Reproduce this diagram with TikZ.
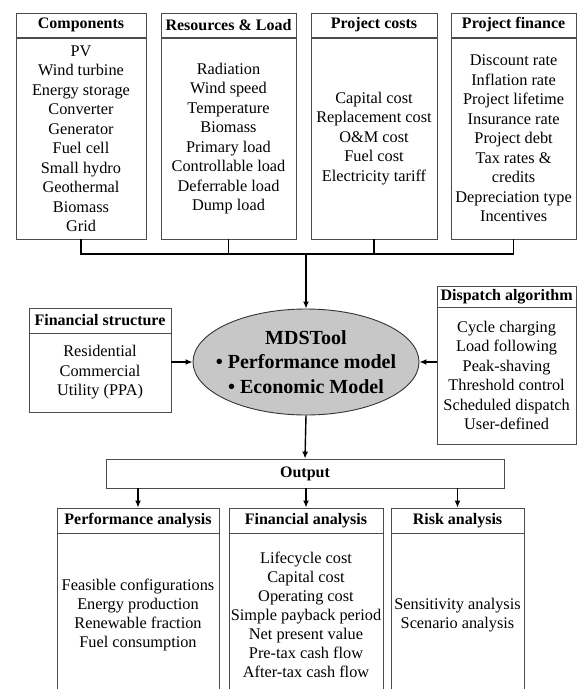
\documentclass[tikz,border=0pt]{standalone}
\usepackage{fontspec}
\setmainfont{Liberation Serif}
\usetikzlibrary{arrows.meta,shapes.geometric}
\begin{document}
\begin{tikzpicture}[x=1pt,y=-1pt,
  hdr/.style={draw=black!70, line width=0.9pt, inner sep=0pt, font=\fontsize{16}{19.5}\selectfont\bfseries},
  body/.style={draw=black!70, line width=0.9pt, inner sep=0pt, align=center, font=\fontsize{16.3}{19.5}\selectfont},
  lowbody/.style={body, font=\fontsize{16.3}{19}\selectfont},
  conn/.style={line width=1.4pt, black},
  arr/.style={conn, -{Latex[length=7pt,width=6pt]}}
]
\clip (0,0) rectangle (577,689);
\fill[white] (0,0) rectangle (577,689);

% top boxes
\node[hdr, minimum width=130, minimum height=24] (comph) at (81,25) {Components};
\node[body, minimum width=130, minimum height=201] (comp) at (81,138.5) {PV\\Wind turbine\\Energy storage\\Converter\\Generator\\Fuel cell\\Small hydro\\Geothermal\\Biomass\\Grid};

\node[hdr, minimum width=135, minimum height=24] (resh) at (228.5,25) {Resources \& Load};
\node[body, minimum width=135, minimum height=201] (res) at (228.5,138.5) {Radiation\\Wind speed\\Temperature\\Biomass\\Primary load\\Controllable load\\Deferrable load\\Dump load};

\node[hdr, minimum width=126, minimum height=24] (pcosth) at (374,25) {Project costs};
\node[body, minimum width=126, minimum height=201] (pcost) at (374,138.5) {Capital cost\\Replacement cost\\O\&M cost\\Fuel cost\\Electricity tariff};

\node[hdr, minimum width=125.3, minimum height=24] (pfinh) at (513.6,25) {Project finance};
\node[body, minimum width=125.3, minimum height=201] (pfin) at (513.6,138.5) {Discount rate\\Inflation rate\\Project lifetime\\Insurance rate\\Project debt\\Tax rates \&\\credits\\Depreciation type\\Incentives};

% centre
\node[ellipse, draw=black!80, line width=0.9pt, fill=black!22, minimum width=226, minimum height=106, inner sep=0pt] (mds) at (306,362) {};
\node[inner sep=0pt, align=center, font=\fontsize{20}{24.5}\selectfont\bfseries] (mdstext) at (mds.center) {MDSTool\\\textbullet\ Performance model\\\textbullet\ Economic Model};

\node[hdr, minimum width=142, minimum height=25] (fsh) at (100,320.5) {Financial structure};
\node[body, minimum width=142, minimum height=79] (fs) at (100,372.5) {Residential\\Commercial\\Utility (PPA)};

\node[hdr, minimum width=139.3, minimum height=21] (disph) at (506.6,296.5) {Dispatch algorithm};
\node[body, minimum width=139.3, minimum height=137] (disp) at (506.6,375.5) {Cycle charging\\Load following\\Peak-shaving\\Threshold control\\Scheduled dispatch\\User-defined};

% output
\node[hdr, minimum width=398, minimum height=29] (out) at (305,473.5) {Output};

\node[hdr, minimum width=162, minimum height=25] (perfh) at (138,520.5) {Performance analysis};
\node[lowbody, minimum width=162, minimum height=164] (perf) at (138,615) {Feasible configurations\\Energy production\\Renewable fraction\\Fuel consumption};

\node[hdr, minimum width=154, minimum height=25] (finh) at (306,520.5) {Financial analysis};
\node[lowbody, minimum width=154, minimum height=164] (fin) at (306,615) {Lifecycle cost\\Capital cost\\Operating cost\\Simple payback period\\Net present value\\Pre-tax cash flow\\After-tax cash flow};

\node[hdr, minimum width=133, minimum height=25] (riskh) at (457.5,520.5) {Risk analysis};
\node[lowbody, minimum width=133, minimum height=164] (risk) at (457.5,615) {Sensitivity analysis\\Scenario analysis};

% connectors
\coordinate (bus) at (306,254);
\draw[conn] (comp.south) |- (bus) -| (pfin.south);
\draw[conn] (res.south) -- (res.south |- bus);
\draw[conn] (pcost.south) -- (pcost.south |- bus);
\draw[arr] (bus) -- (mds.north);
\draw[arr] (fs.east |- mds.west) -- (mds.west);
\draw[arr] (disp.west |- mds.east) -- (mds.east);
\draw[arr] (mds.south) -- (out.north);
\draw[arr] (out.south -| perfh.north) -- (perfh.north);
\draw[arr] (out.south -| finh.north) -- (finh.north);
\draw[arr] (out.south -| riskh.north) -- (riskh.north);
\end{tikzpicture}
\end{document}
